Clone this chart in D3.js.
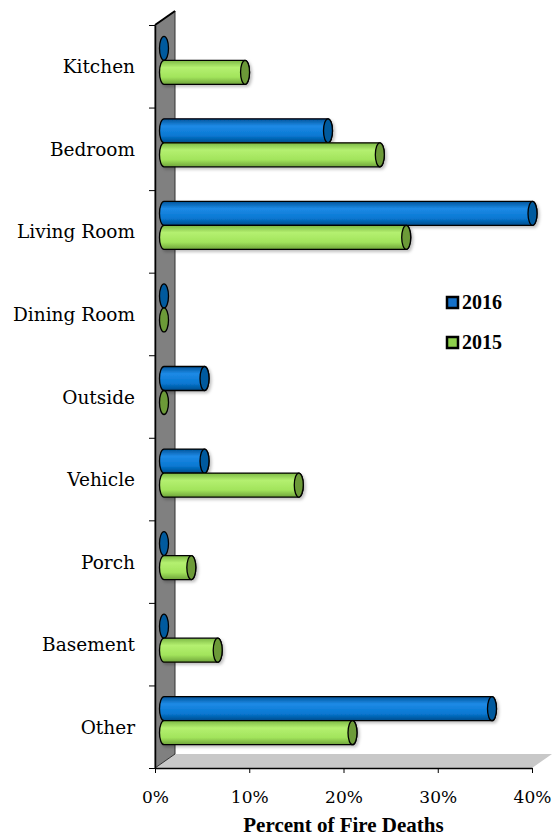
<!DOCTYPE html>
<html>
<head>
<meta charset="utf-8">
<script src="https://cdn.jsdelivr.net/npm/d3@7"></script>
<style>
  body { margin: 0; background: #fff; }
  svg { display: block; }
</style>
</head>
<body>
<div id="chart"></div>
<script>
var categories = ["Kitchen", "Bedroom", "Living Room", "Dining Room", "Outside", "Vehicle", "Porch", "Basement", "Other"];
var years = ["2016", "2015"];
var values2016 = [0, 17.4, 39.1, 0, 4.3, 4.3, 0, 0, 34.8];
var values2015 = [8.6, 22.9, 25.7, 0, 0, 14.3, 2.9, 5.7, 20.0];
var xTicks = [0, 10, 20, 30, 40];

var W = 554, H = 839;
var depthX = 20, depthY = -14;   // 3d depth of wall/floor
var barDX = 9, barDY = -6;       // bars sit mid-depth
var rx = 4.5;

var colors = {
  "2016": { top: "#00549a", light: "#1e8ae6", mid: "#0878d2", bottom: "#004c8c", cap: "#005a9e", legend: "#1470c8" },
  "2015": { top: "#7cb844", light: "#b4f070", mid: "#a2e45c", bottom: "#6fa43a", cap: "#6c9a38", legend: "#8ed04c" }
};

var svg = d3.select("#chart").append("svg")
  .attr("width", W)
  .attr("height", H);

var x = d3.scaleLinear().domain([0, 40]).range([155, 532]);
var y = d3.scaleBand().domain(categories).range([25, 768]).paddingInner(0).paddingOuter(0);
var sub = d3.scaleBand().domain(years).range([0, y.bandwidth()]).paddingOuter(0.72);

var defs = svg.append("defs");
years.forEach(function (yr) {
  var g = defs.append("linearGradient")
    .attr("id", "grad" + yr)
    .attr("x1", 0).attr("y1", 0).attr("x2", 0).attr("y2", 1);
  g.append("stop").attr("offset", "0%").attr("stop-color", colors[yr].top);
  g.append("stop").attr("offset", "30%").attr("stop-color", colors[yr].light);
  g.append("stop").attr("offset", "70%").attr("stop-color", colors[yr].mid);
  g.append("stop").attr("offset", "100%").attr("stop-color", colors[yr].bottom);
});
var shadow = defs.append("filter").attr("id", "shadow")
  .attr("x", "-10%").attr("y", "-30%").attr("width", "130%").attr("height", "180%");
shadow.append("feDropShadow")
  .attr("dx", 2).attr("dy", 2).attr("stdDeviation", 1.5)
  .attr("flood-color", "#000").attr("flood-opacity", 0.25);

// floor
var x0 = x(0), x1 = x(40), yb = y.range()[1], yt = y.range()[0];
svg.append("path")
  .attr("d", "M" + x0 + "," + yb + "L" + (x0 + depthX) + "," + (yb + depthY) +
    "L" + (x1 + depthX) + "," + (yb + depthY) + "L" + x1 + "," + yb + "Z")
  .attr("fill", "#c8c8c8");

// wall
svg.append("path")
  .attr("d", "M" + x0 + "," + yb + "L" + x0 + "," + yt + "L" + (x0 + depthX) + "," + (yt + depthY) +
    "L" + (x0 + depthX) + "," + (yb + depthY) + "Z")
  .attr("fill", "#808080")
  .attr("stroke", "#333")
  .attr("stroke-width", 1);
svg.append("line")
  .attr("x1", x0).attr("y1", yt).attr("x2", x0 + depthX).attr("y2", yt + depthY)
  .attr("stroke", "#000").attr("stroke-width", 2);

// bars
var rows = [];
categories.forEach(function (c, i) {
  rows.push({ cat: c, year: "2016", value: values2016[i] });
  rows.push({ cat: c, year: "2015", value: values2015[i] });
});

var bars = svg.append("g").selectAll("g.bar")
  .data(rows)
  .enter()
  .append("g")
  .attr("class", "bar");

bars.each(function (d) {
  var g = d3.select(this);
  var top = y(d.cat) + sub(d.year) + barDY;
  var h = sub.bandwidth();
  var ry = h / 2;
  var xl = x(0) + barDX;
  var xr = x(d.value) + barDX;
  if (d.value > 0) {
    g.append("path")
      .attr("d", "M" + xl + "," + top + "L" + xr + "," + top +
        "A" + rx + "," + ry + " 0 0 1 " + xr + "," + (top + h) +
        "L" + xl + "," + (top + h) +
        "A" + rx + "," + ry + " 0 0 1 " + xl + "," + top + "Z")
      .attr("fill", "url(#grad" + d.year + ")")
      .attr("stroke", "#000")
      .attr("stroke-width", 1.3)
      .attr("filter", "url(#shadow)");
  }
  g.append("ellipse")
    .attr("cx", xr)
    .attr("cy", top + ry)
    .attr("rx", rx)
    .attr("ry", ry)
    .attr("fill", colors[d.year].cap)
    .attr("stroke", "#000")
    .attr("stroke-width", 1.3);
});

// x axis
var xAxis = d3.axisBottom(x)
  .tickValues(xTicks)
  .tickFormat(function (d) { return d + "%"; })
  .tickSize(5)
  .tickSizeOuter(0)
  .tickPadding(18);

var gx = svg.append("g")
  .attr("transform", "translate(0," + yb + ")")
  .call(xAxis);
gx.select(".domain").attr("stroke-width", 1.5);
gx.selectAll("text")
  .attr("font-family", "DejaVu Serif")
  .attr("font-size", "17px")
  .attr("fill", "#000");

// y axis ticks at band edges
var yEdges = d3.scaleLinear().domain([0, categories.length]).range([yt, yb]);
var gy = svg.append("g")
  .attr("transform", "translate(" + x0 + ",0)")
  .call(d3.axisLeft(yEdges).ticks(categories.length).tickSize(6).tickSizeOuter(0).tickFormat(""));
gy.select(".domain").attr("stroke-width", 1.5);

// category labels
var gl = svg.append("g")
  .attr("transform", "translate(" + x0 + ",0)")
  .call(d3.axisLeft(y).tickSize(0).tickPadding(20));
gl.select(".domain").remove();
gl.selectAll("text")
  .attr("font-family", "DejaVu Serif")
  .attr("font-size", "18.5px")
  .attr("dy", "0.38em")
  .attr("fill", "#000");

// axis title
svg.append("text")
  .attr("x", (x0 + x1) / 2)
  .attr("y", 832)
  .attr("text-anchor", "middle")
  .attr("font-family", "Liberation Serif")
  .attr("font-weight", "bold")
  .attr("font-size", "21px")
  .text("Percent of Fire Deaths");

// legend
var legend = svg.append("g").selectAll("g")
  .data(years)
  .enter()
  .append("g")
  .attr("transform", function (d, i) { return "translate(447," + (297 + i * 40) + ")"; });
legend.append("rect")
  .attr("width", 11).attr("height", 11)
  .attr("fill", function (d) { return colors[d].legend; })
  .attr("stroke", "#000")
  .attr("stroke-width", 2.5);
legend.append("text")
  .attr("x", 15)
  .attr("y", 12)
  .attr("font-family", "Liberation Serif")
  .attr("font-weight", "bold")
  .attr("font-size", "20px")
  .text(function (d) { return d; });
</script>
</body>
</html>
